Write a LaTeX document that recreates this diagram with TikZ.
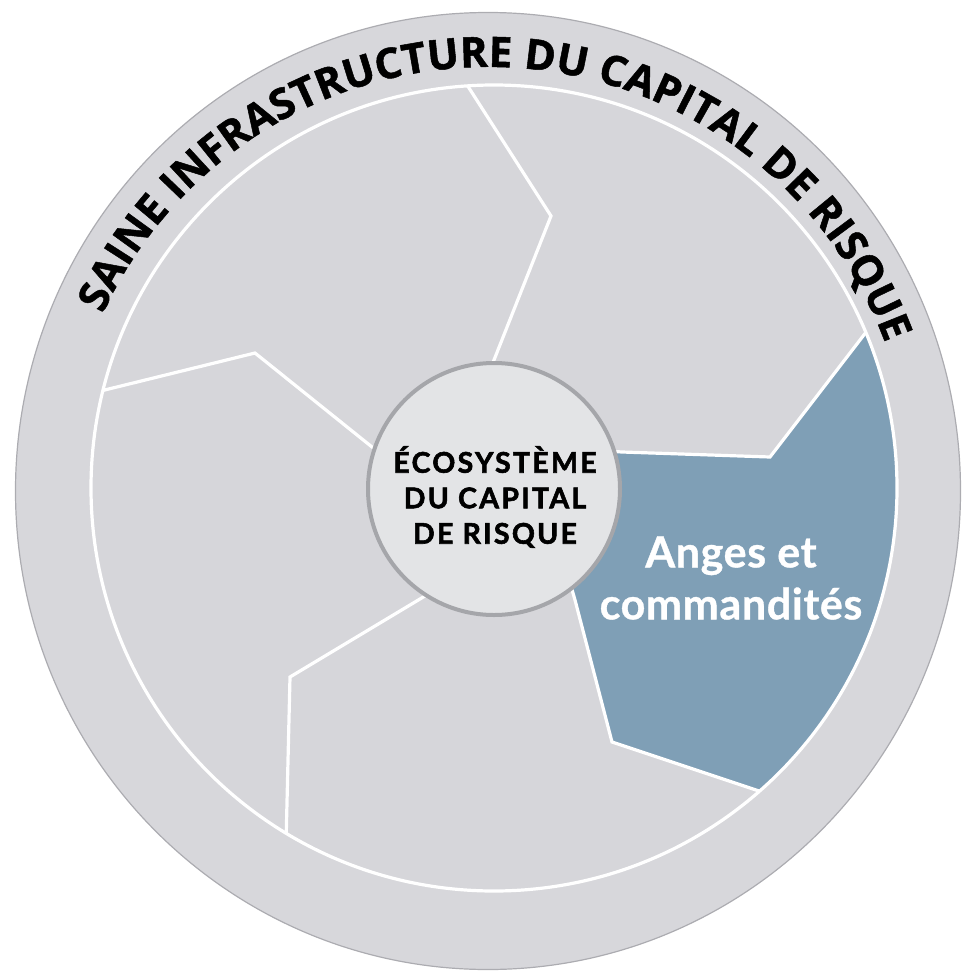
\documentclass[tikz,border=0pt]{standalone}
\usepackage{fontspec}
\usetikzlibrary{decorations.text}
\newfontfamily\rimfont{Open Sans}[BoldFeatures={FakeBold=1.2}]
\newfontfamily\hubfont{Lato}[BoldFeatures={FakeBold=2.0, LetterSpace=8.0}]
\newfontfamily\angefont{Lato}[BoldFeatures={FakeBold=0.8, LetterSpace=1.5}]
\definecolor{segGray}{RGB}{214,214,218}
\definecolor{rimGray}{RGB}{215,215,219}
\definecolor{rimEdge}{RGB}{172,172,177}
\definecolor{hubFill}{RGB}{227,228,230}
\definecolor{hubEdge}{RGB}{165,166,170}
\definecolor{angeBlue}{RGB}{127,159,182}
\begin{document}
\begin{tikzpicture}[x=1pt,y=-1pt,
  seam/.style={white, line width=3.2pt, line join=miter},
  hub/.style={circle, minimum size=252pt, inner sep=0pt, fill=hubFill, draw=hubEdge, line width=4pt},
  hubtext/.style={align=center, inner sep=0pt, text=black, font=\hubfont\bfseries\fontsize{28.5}{35.5}\selectfont},
  angetext/.style={align=center, inner sep=0pt, text=white, font=\angefont\bfseries\fontsize{43}{52}\selectfont}]
\useasboundingbox (0,0) rectangle (967,971);
% outer rim
\fill[rimGray, draw=rimEdge, line width=1.2pt] (488,491) ellipse [x radius=472.5, y radius=478.5];
% inner disc with segments
\fill[segGray] (494,488) circle [radius=403];
\begin{scope}
  \clip (494,488) circle [radius=403];
  \fill[angeBlue] (494,489) -- (607,451) -- (770,457) -- (920,262) -- (1000,262)
     -- (1000,880) -- (837,817) -- (612,742) -- (571,586) -- cycle;
  \draw[seam] (488,374) -- (494,360) -- (551,216) -- (428,24);
  \draw[seam] (607,451) -- (622,452) -- (770,457) -- (920,262);
  \draw[seam] (571,586) -- (575,600) -- (612,742) -- (837,817);
  \draw[seam] (433,591) -- (420,599) -- (290,677) -- (285,886);
  \draw[seam] (385,457) -- (372,447) -- (255,353) -- (60,401);
\end{scope}
\draw[white, line width=3.2pt] (494,488) circle [radius=403];
% hub
\node[hub] (eco) at (494,489) {};
\node[hubtext] (ecotxt) at (495,497) {ÉCOSYSTÈME\\DU CAPITAL\\DE RISQUE};
% highlighted segment label
\node[angetext] (anges) at (731,578) {Anges et\\commandités};
% rim text
\begin{scope}[shift={(488,491)}, x=1pt, y=1pt]
  \path[decorate, decoration={text along path, text align=fit to path,
     text={|\rimfont\bfseries\fontsize{42}{50}\selectfont|SAINE INFRASTRUCTURE DU CAPITAL DE RISQUE}}]
     (155.3:424) arc [start angle=155.3, end angle=20.4, radius=424];
\end{scope}
\end{tikzpicture}
\end{document}
